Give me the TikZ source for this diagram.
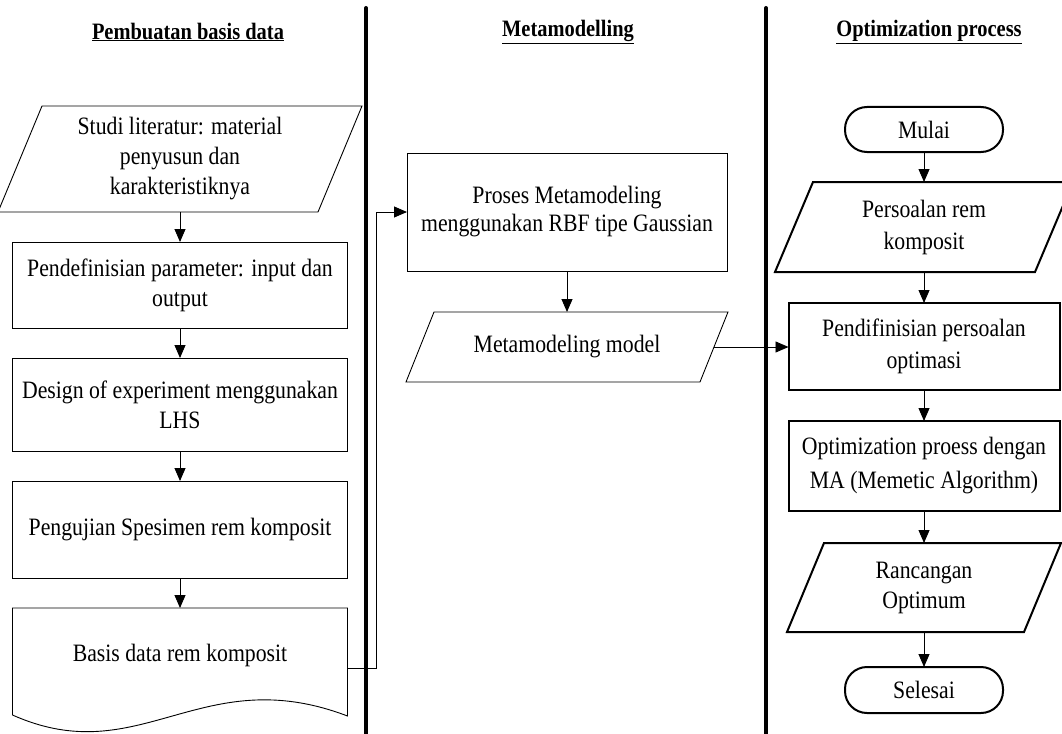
\documentclass[tikz,border=0pt]{standalone}
\usepackage{fontspec}
\setmainfont{Liberation Serif}[FakeStretch=0.87]
\usetikzlibrary{arrows.meta,calc}
\begin{document}
\begin{tikzpicture}[x=1pt,y=-1pt,
  every node/.style={inner sep=0pt, outer sep=0pt},
  txt/.style={align=center, font=\fontsize{25}{30}\selectfont},
  lbox/.style={txt, draw, line width=0.9pt},
  rtxt/.style={align=center, font=\fontsize{25}{32}\selectfont},
  rbox/.style={rtxt, draw, line width=2pt},
  term/.style={rtxt, draw, line width=2pt, rounded corners=22pt},
  hdr/.style={font=\fontsize{23.5}{26}\selectfont\bfseries},
  arr/.style={-{Triangle[length=13pt,width=11pt]}, line width=0.9pt},
  divider/.style={line width=4pt, line cap=round},
  thinline/.style={line width=0.9pt, line join=miter},
  thickline/.style={line width=2pt, line join=miter}
]
\useasboundingbox (0,0) rectangle (1062,733);

% headers
\node[hdr] (h1) at (188,32) {\underline{Pembuatan basis data}};
\node[hdr] (h2) at (568,32) {\underline{Metamodelling}};
\node[hdr] (h3) at (929,32) {\underline{Optimization process}};

% dividers
\coordinate (d1t) at (366,8);
\coordinate (d1b) at (366,740);
\coordinate (d2t) at (766,8);
\coordinate (d2b) at (766,740);
\draw[divider] (d1t) -- (d1b);
\draw[divider] (d2t) -- (d2b);

% left column
\node[txt, minimum width=320pt, minimum height=106pt] (lit) at (180,159) {Studi literatur: material\\penyusun dan\\karakteristiknya};
\draw[thinline] ([xshift=22pt]lit.north west) -- ([xshift=22pt]lit.north east) -- ([xshift=-22pt]lit.south east) -- ([xshift=-22pt]lit.south west) -- cycle;

\node[lbox, minimum width=335pt, minimum height=86pt] (par) at (180,285) {Pendefinisian parameter: input dan\\output};
\node[lbox, minimum width=335pt, minimum height=93pt] (doe) at (180,404.5) {Design of experiment menggunakan\\LHS};
\node[lbox, minimum width=335pt, minimum height=97pt] (uji) at (180,529.5) {Pengujian Spesimen rem komposit};
\node[txt, minimum width=335pt, minimum height=120pt] (doc) at (180,668) {};
\node[txt] (doctext) at (180,655) {Basis data rem komposit};
\draw[thinline] (doc.north west) -- (doc.north east) -- ($(doc.south west)+(335,-12)$)
  .. controls ($(doc.south west)+(188,-68)$) and ($(doc.south west)+(128,44)$) .. ($(doc.south west)+(0,-13)$) -- cycle;

\draw[arr] (lit.south) -- (par.north);
\draw[arr] (par.south) -- (doe.north);
\draw[arr] (doe.south) -- (uji.north);
\draw[arr] (uji.south) -- (doc.north);

% middle column
\node[txt, draw, line width=0.9pt, minimum width=320pt, minimum height=118pt, font=\fontsize{25}{28}\selectfont] (rbf) at (567,212) {Proses Metamodeling\\menggunakan RBF tipe Gaussian};
\node[txt, minimum width=294pt, minimum height=70pt] (mm) at (567,347) {Metamodeling model};
\draw[thinline] ([xshift=14pt]mm.north west) -- ([xshift=14pt]mm.north east) -- ([xshift=-14pt]mm.south east) -- ([xshift=-14pt]mm.south west) -- cycle;
\draw[arr] (rbf.south) -- (mm.north);

\draw[arr] (doc.east) -- ++(29,0) |- (rbf.west);

% right column
\node[term, minimum width=158pt, minimum height=45pt] (start) at (924,129.5) {Mulai};
\node[rtxt, minimum width=260pt, minimum height=90pt] (pers) at (924,227) {Persoalan rem\\komposit};
\draw[thickline] ([xshift=19pt]pers.north west) -- ([xshift=19pt]pers.north east) -- ([xshift=-19pt]pers.south east) -- ([xshift=-19pt]pers.south west) -- cycle;
\node[rbox, minimum width=271pt, minimum height=87pt] (pdef) at (924,346.5) {Pendifinisian persoalan\\optimasi};
\node[rbox, minimum width=271pt, minimum height=90pt, font=\fontsize{25}{34}\selectfont] (opt) at (924,466) {Optimization proess dengan\\MA (Memetic Algorithm)};
\node[rtxt, minimum width=237pt, minimum height=89pt, font=\fontsize{25}{30}\selectfont] (ranc) at (924,587.5) {Rancangan\\Optimum};
\draw[thickline] ([xshift=18.5pt]ranc.north west) -- ([xshift=18.5pt]ranc.north east) -- ([xshift=-18.5pt]ranc.south east) -- ([xshift=-18.5pt]ranc.south west) -- cycle;
\node[term, minimum width=158pt, minimum height=46pt] (stop) at (924,690) {Selesai};

\draw[arr] (start.south) -- (pers.north);
\draw[arr] (pers.south) -- (pdef.north);
\draw[arr] (pdef.south) -- (opt.north);
\draw[arr] (opt.south) -- (ranc.north);
\draw[arr] (ranc.south) -- (stop.north);

\draw[arr] (mm.east) -- (mm.east -| pdef.west);
\end{tikzpicture}
\end{document}
